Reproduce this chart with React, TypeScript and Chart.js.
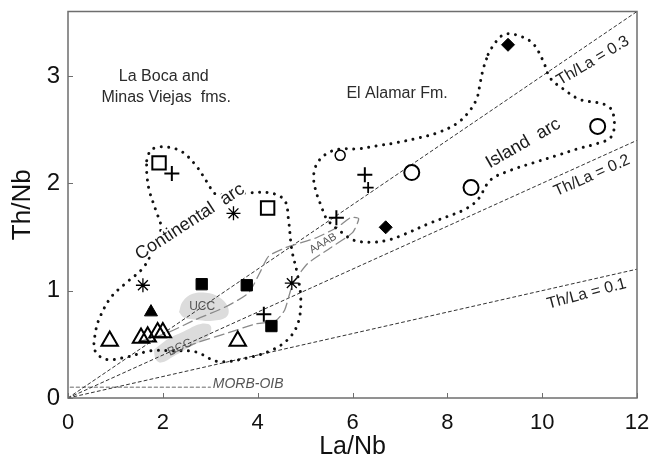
import React, { useEffect, useRef } from "react";
import { Chart, registerables } from "chart.js";

Chart.register(...registerables);

const xTicks = [0, 2, 4, 6, 8, 10, 12];
const yTicks = [0, 1, 2, 3];

const openSquares = [{ x: 1.92, y: 2.19 }, { x: 4.21, y: 1.77 }];
const filledSquares = [{ x: 2.82, y: 1.06 }, { x: 3.77, y: 1.05 }, { x: 4.29, y: 0.67 }];
const openTriangles = [
  { x: 0.88, y: 0.53 }, { x: 1.54, y: 0.56 }, { x: 1.68, y: 0.57 },
  { x: 1.89, y: 0.61 }, { x: 2.0, y: 0.61 }, { x: 3.58, y: 0.53 },
];
const filledTriangles = [{ x: 1.75, y: 0.8 }];
const asterisks = [{ x: 1.58, y: 1.05 }, { x: 3.49, y: 1.72 }, { x: 4.72, y: 1.07 }];
const plusesLarge = [{ x: 2.19, y: 2.09 }, { x: 6.26, y: 2.08 }, { x: 4.13, y: 0.78 }, { x: 5.66, y: 1.68 }];
const plusesSmall = [{ x: 6.33, y: 1.96 }];
const openCircles = [{ x: 7.25, y: 2.1 }, { x: 8.5, y: 1.96 }, { x: 11.17, y: 2.53 }];
const smallCircles = [{ x: 5.74, y: 2.26 }];
const diamonds = [{ x: 9.28, y: 3.29 }, { x: 6.7, y: 1.59 }];

// Th/La reference lines (Th/Nb = ratio * La/Nb)
const ratio03 = [{ x: 0, y: 0 }, { x: 12, y: 3.6 }];
const ratio02 = [{ x: 0, y: 0 }, { x: 12, y: 2.4 }];
const ratio01 = [{ x: 0, y: 0 }, { x: 12, y: 1.2 }];
const morbOib = [{ x: 0.05, y: 0.1 }, { x: 3.0, y: 0.1 }];

const continentalArc = [
  { x: 1.66, y: 2.21 }, { x: 1.75, y: 2.31 }, { x: 2.0, y: 2.34 }, { x: 2.38, y: 2.3 },
  { x: 2.69, y: 2.17 }, { x: 2.95, y: 2.0 }, { x: 3.12, y: 1.9 }, { x: 3.75, y: 1.91 },
  { x: 4.27, y: 1.91 }, { x: 4.57, y: 1.84 }, { x: 4.65, y: 1.66 }, { x: 4.72, y: 1.38 },
  { x: 4.84, y: 1.15 }, { x: 4.91, y: 0.92 }, { x: 4.86, y: 0.71 }, { x: 4.67, y: 0.56 },
  { x: 4.32, y: 0.45 }, { x: 3.75, y: 0.37 }, { x: 3.16, y: 0.34 }, { x: 2.69, y: 0.43 },
  { x: 2.17, y: 0.44 }, { x: 1.75, y: 0.44 }, { x: 1.22, y: 0.38 }, { x: 0.8, y: 0.36 },
  { x: 0.57, y: 0.44 }, { x: 0.57, y: 0.59 }, { x: 0.67, y: 0.75 }, { x: 0.91, y: 0.94 },
  { x: 1.22, y: 1.07 }, { x: 1.58, y: 1.21 }, { x: 1.79, y: 1.38 }, { x: 1.96, y: 1.58 },
  { x: 1.85, y: 1.75 }, { x: 1.71, y: 1.94 }, { x: 1.66, y: 2.1 }, { x: 1.66, y: 2.21 },
];

const islandArc = [
  { x: 8.86, y: 3.2 }, { x: 9.01, y: 3.31 }, { x: 9.22, y: 3.39 }, { x: 9.54, y: 3.37 },
  { x: 9.81, y: 3.3 }, { x: 10.02, y: 3.14 }, { x: 10.17, y: 2.98 }, { x: 10.44, y: 2.88 },
  { x: 10.8, y: 2.78 }, { x: 11.28, y: 2.74 }, { x: 11.47, y: 2.68 }, { x: 11.52, y: 2.52 },
  { x: 11.43, y: 2.42 }, { x: 11.16, y: 2.37 }, { x: 10.74, y: 2.32 }, { x: 10.32, y: 2.26 },
  { x: 9.81, y: 2.19 }, { x: 9.33, y: 2.12 }, { x: 8.91, y: 2.03 }, { x: 8.63, y: 1.84 },
  { x: 8.34, y: 1.75 }, { x: 8.0, y: 1.69 }, { x: 7.64, y: 1.63 }, { x: 7.07, y: 1.52 },
  { x: 6.74, y: 1.47 }, { x: 6.38, y: 1.45 }, { x: 6.02, y: 1.47 }, { x: 5.81, y: 1.53 },
  { x: 5.47, y: 1.66 }, { x: 5.33, y: 1.8 }, { x: 5.22, y: 1.94 }, { x: 5.18, y: 2.07 },
  { x: 5.26, y: 2.19 }, { x: 5.47, y: 2.28 }, { x: 5.75, y: 2.32 }, { x: 6.11, y: 2.32 },
  { x: 6.53, y: 2.35 }, { x: 6.95, y: 2.38 }, { x: 7.37, y: 2.42 }, { x: 7.79, y: 2.47 },
  { x: 8.21, y: 2.56 }, { x: 8.48, y: 2.68 }, { x: 8.63, y: 2.8 }, { x: 8.69, y: 2.93 },
  { x: 8.76, y: 3.07 }, { x: 8.86, y: 3.2 },
];

const uccField = [
  { x: 2.34, y: 0.8 }, { x: 2.42, y: 0.9 }, { x: 2.63, y: 0.97 }, { x: 2.91, y: 0.98 },
  { x: 3.18, y: 0.94 }, { x: 3.37, y: 0.85 }, { x: 3.35, y: 0.76 }, { x: 3.05, y: 0.72 },
  { x: 2.69, y: 0.73 }, { x: 2.44, y: 0.75 }, { x: 2.34, y: 0.8 },
];

const bccField = [
  { x: 1.81, y: 0.45 }, { x: 2.11, y: 0.55 }, { x: 2.44, y: 0.62 }, { x: 2.8, y: 0.69 },
  { x: 3.01, y: 0.67 }, { x: 2.95, y: 0.57 }, { x: 2.59, y: 0.48 }, { x: 2.23, y: 0.39 },
  { x: 1.96, y: 0.33 }, { x: 1.85, y: 0.36 }, { x: 1.81, y: 0.45 },
];

const aaabField = [
  { x: 1.54, y: 0.53 }, { x: 2.06, y: 0.6 }, { x: 2.69, y: 0.73 }, { x: 3.33, y: 0.85 },
  { x: 3.81, y: 0.98 }, { x: 4.06, y: 1.18 }, { x: 4.23, y: 1.32 }, { x: 4.59, y: 1.4 },
  { x: 5.22, y: 1.49 }, { x: 5.68, y: 1.59 }, { x: 5.96, y: 1.68 }, { x: 6.13, y: 1.67 },
  { x: 6.0, y: 1.54 }, { x: 5.54, y: 1.4 }, { x: 5.05, y: 1.25 }, { x: 4.74, y: 1.06 },
  { x: 4.57, y: 0.82 }, { x: 4.38, y: 0.72 }, { x: 3.96, y: 0.69 }, { x: 3.33, y: 0.6 },
  { x: 2.69, y: 0.51 }, { x: 2.17, y: 0.41 },
];

const labelTexts = [
  "La Boca and", "Minas Viejas  fms.", "El Alamar Fm.", "Continental  arc", "Island  arc",
  "Th/La = 0.3", "Th/La = 0.2", "Th/La = 0.1", "UCC", "BCC", "AAAB", "MORB-OIB",
];
const labelX = [2.02, 2.07, 6.94, 2.57, 9.6, 11.07, 11.05, 10.94, 2.83, 2.36, 5.38, 3.8];
const labelY = [2.99, 2.8, 2.84, 1.64, 2.37, 3.14, 2.07, 0.97, 0.85, 0.47, 1.44, 0.13];
const labelAngle = [0, 0, 0, -33, -30, -31, -24, -15, 0, -25, -31, 0];
const labelSize = [16, 16, 16, 18, 18, 16, 16, 16, 12, 12, 11, 14];
const labelColor = ["#2b2b2b", "#2b2b2b", "#2b2b2b", "#1a1a1a", "#1a1a1a", "#222", "#222", "#222", "#555", "#555", "#555", "#555"];
const labelItalic = [false, false, false, false, false, false, false, false, false, false, false, true];
const labelHalo = [false, false, false, true, true, false, false, false, false, false, false, false];

const FONT = "'Liberation Sans', Arial, Helvetica, sans-serif";

const framePlugin = {
  id: "frameAndLabels",
  afterDatasetsDraw(chart: any) {
    const { ctx, chartArea, scales } = chart;
    const xs = scales.x;
    const ys = scales.y;
    ctx.save();
    ctx.strokeStyle = "#6e6e6e";
    ctx.lineWidth = 1.5;
    ctx.strokeRect(chartArea.left, chartArea.top, chartArea.right - chartArea.left, chartArea.bottom - chartArea.top);
    ctx.lineWidth = 1;
    ctx.beginPath();
    xTicks.forEach((v) => {
      const px = Math.round(xs.getPixelForValue(v)) + 0.5;
      ctx.moveTo(px, chartArea.bottom);
      ctx.lineTo(px, chartArea.bottom - 5);
    });
    yTicks.forEach((v) => {
      const py = Math.round(ys.getPixelForValue(v)) + 0.5;
      ctx.moveTo(chartArea.left, py);
      ctx.lineTo(chartArea.left + 5, py);
    });
    ctx.stroke();

    labelTexts.forEach((t, i) => {
      const px = xs.getPixelForValue(labelX[i]);
      const py = ys.getPixelForValue(labelY[i]);
      ctx.save();
      ctx.translate(px, py);
      ctx.rotate((labelAngle[i] * Math.PI) / 180);
      ctx.font = `${labelItalic[i] ? "italic " : ""}${labelSize[i]}px ${FONT}`;
      ctx.textAlign = "center";
      ctx.textBaseline = "middle";
      if (labelHalo[i]) {
        ctx.strokeStyle = "#ffffff";
        ctx.lineWidth = 4;
        ctx.lineJoin = "round";
        ctx.strokeText(t, 0, 0);
      }
      ctx.fillStyle = labelColor[i];
      ctx.fillText(t, 0, 0);
      ctx.restore();
    });
    ctx.restore();
  },
};

function markerSet(data: any[], style: string, radius: number, width: number, filled: boolean) {
  return {
    data,
    showLine: false,
    pointStyle: style,
    pointRadius: radius,
    pointHoverRadius: radius,
    pointBorderWidth: width,
    pointBorderColor: "#000",
    pointBackgroundColor: filled ? "#000" : "rgba(0,0,0,0)",
    order: 0,
  };
}

function lineSet(data: any[], color: string, width: number, dash: number[], order: number, tension = 0) {
  return {
    data,
    showLine: true,
    borderColor: color,
    borderWidth: width,
    borderDash: dash,
    borderCapStyle: "round",
    tension,
    pointRadius: 0,
    pointHoverRadius: 0,
    fill: false,
    order,
  };
}

function fieldSet(data: any[], color: string) {
  return {
    data,
    showLine: true,
    borderColor: "rgba(0,0,0,0)",
    borderWidth: 0,
    backgroundColor: color,
    fill: "shape",
    tension: 0.4,
    pointRadius: 0,
    pointHoverRadius: 0,
    order: 10,
  };
}

export default function App() {
  const ref = useRef<HTMLCanvasElement | null>(null);

  useEffect(() => {
    if (!ref.current) return;
    const chart = new Chart(ref.current, {
      type: "scatter",
      data: {
        datasets: [
          markerSet(openSquares, "rect", 9.5, 2, false),
          markerSet(filledSquares, "rect", 8, 1, true),
          markerSet(openTriangles, "triangle", 9.5, 2, false),
          markerSet(filledTriangles, "triangle", 7.5, 1, true),
          markerSet(asterisks, "star", 7, 1.3, false),
          markerSet(plusesLarge, "cross", 7.5, 2, false),
          markerSet(plusesSmall, "cross", 5.5, 1.8, false),
          markerSet(openCircles, "circle", 7.5, 2, false),
          markerSet(smallCircles, "circle", 5, 1.5, false),
          markerSet(diamonds, "rectRot", 6.5, 1, true),
          lineSet(continentalArc, "#111", 3, [0.01, 7.5], 3, 0.35),
          lineSet(islandArc, "#111", 3, [0.01, 7.5], 3, 0.35),
          lineSet(aaabField, "#8a8a8a", 1.3, [10, 5], 4, 0.2),
          lineSet(ratio03, "#333", 1, [3, 3], 5),
          lineSet(ratio02, "#333", 1, [3, 3], 5),
          lineSet(ratio01, "#333", 1, [3, 3], 5),
          lineSet(morbOib, "#9a9a9a", 1.5, [3, 3], 5),
          fieldSet(uccField, "#dcdcdc"),
          fieldSet(bccField, "#dcdcdc"),
        ] as any,
      },
      options: {
        animation: false,
        responsive: false,
        events: [],
        layout: { padding: { left: 0, right: 16, top: 10, bottom: 0 } },
        plugins: {
          legend: { display: false },
          tooltip: { enabled: false },
        },
        scales: {
          x: {
            type: "linear",
            min: 0,
            max: 12,
            afterFit: (s: any) => {
              s.height = 70;
              s.paddingLeft = 0;
              s.paddingRight = 0;
            },
            afterBuildTicks: (s: any) => { s.ticks = xTicks.map((v) => ({ value: v })); },
            grid: { display: false, drawTicks: false },
            border: { display: false },
            ticks: {
              padding: 12,
              color: "#111",
              font: { family: FONT, size: 22 },
              maxRotation: 0,
            },
            title: {
              display: true,
              text: "La/Nb",
              color: "#111",
              font: { family: FONT, size: 25 },
              padding: { top: 0, bottom: 6 },
            },
          },
          y: {
            type: "linear",
            min: 0,
            max: 3.6,
            afterFit: (s: any) => {
              s.width = 68;
              s.paddingTop = 0;
              s.paddingBottom = 0;
            },
            afterBuildTicks: (s: any) => { s.ticks = yTicks.map((v) => ({ value: v })); },
            grid: { display: false, drawTicks: false },
            border: { display: false },
            ticks: {
              padding: 8,
              color: "#111",
              font: { family: FONT, size: 24 },
            },
            title: {
              display: true,
              text: "Th/Nb",
              color: "#111",
              font: { family: FONT, size: 26 },
              padding: { top: 7, bottom: 0 },
            },
          },
        },
      },
      plugins: [framePlugin],
    } as any);
    return () => chart.destroy();
  }, []);

  return (
    <div style={{ position: "fixed", left: 0, top: 0, width: 653, height: 468, background: "#fff" }}>
      <canvas ref={ref} width={653} height={468} />
    </div>
  );
}
